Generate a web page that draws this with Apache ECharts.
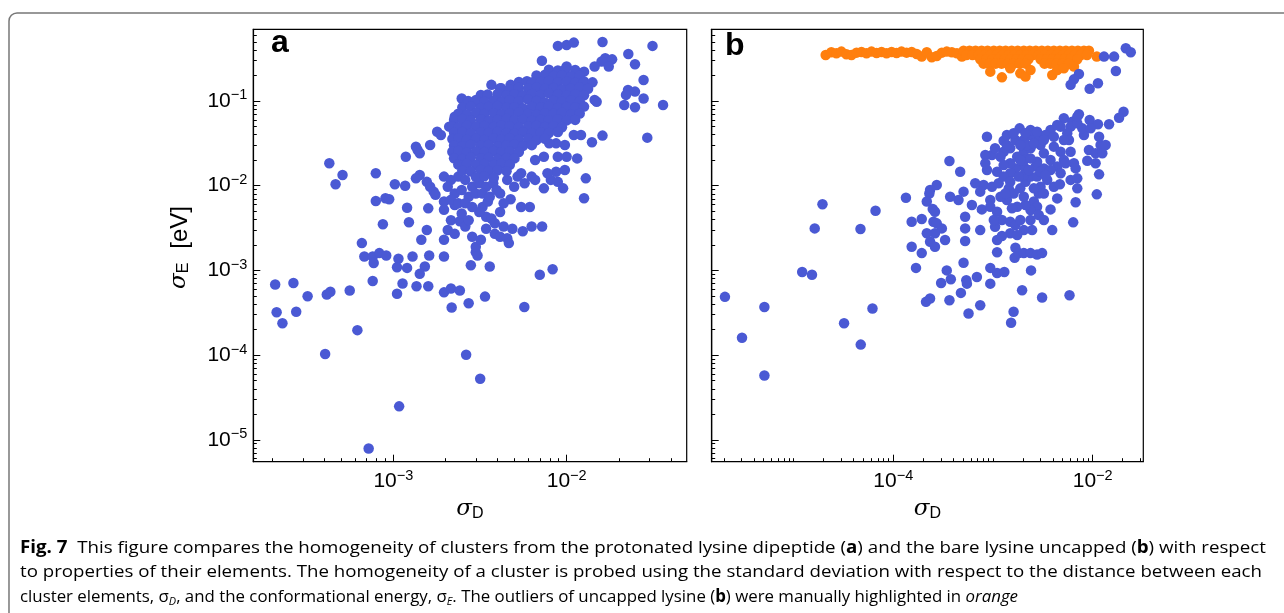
<!DOCTYPE html>
<html><head><meta charset="utf-8">
<script src="https://cdn.jsdelivr.net/npm/echarts@6/dist/echarts.min.js"></script>
<style>html,body{margin:0;padding:0;background:#fff}#c{width:1284px;height:613px}</style>
</head><body><div id="c"></div>
<script>
// ---------- data: [sigma_D, sigma_E] ----------
// panel a: protonated lysine dipeptide
const aOutliers = [
[2.08e-4,6.8e-4],[2.65e-4,7.1e-4],[3.2e-4,4.95e-4],[4.13e-4,5.2e-4],[4.33e-4,5.6e-4],[5.6e-4,5.8e-4],[2.12e-4,3.2e-4],[2.75e-4,3.25e-4],[2.29e-4,2.37e-4],[6.2e-4,1.97e-4],[4.04e-4,1.03e-4],[2.63e-3,1.01e-4],[3.17e-3,5.25e-5],[1.08e-3,2.48e-5],[7.2e-4,7.9e-6],[5.7e-3,3.7e-4],[7.0e-3,8.9e-4],[8.3e-3,1.03e-3],[7.6e-4,7.5e-4],[1.13e-3,7.0e-4],[1.36e-3,6.5e-4],[1.59e-3,6.5e-4],[1.05e-3,5.3e-4],[1.96e-3,5.5e-4],[2.15e-3,6.1e-4],[2.42e-3,5.8e-4],[3.38e-3,4.9e-4],[2.72e-3,4.1e-4],[2.17e-3,3.65e-4],
[6.8e-4,1.46e-3],[7.6e-4,1.46e-3],[7.7e-4,1.22e-3],[8.3e-4,1.6e-3],[9.1e-4,1.5e-3],[1.07e-3,1.37e-3],[1.05e-3,1.09e-3],[1.2e-3,1.07e-3],[1.29e-3,1.46e-3],[1.52e-3,1.11e-3],[1.42e-3,9.1e-4],[1.61e-3,1.5e-3],[1.96e-3,1.46e-3],[2.99e-3,1.64e-3],[3.06e-3,1.5e-3],[2.8e-3,1.15e-3],[3.6e-3,1.11e-3]
];
const aScatter = [
[8.9e-3,0.447],[1.0e-2,0.458],[1.1e-2,0.489],[1.61e-2,0.498],[3.13e-2,0.447],[2.27e-2,0.359],[2.48e-2,0.271],[1.67e-2,0.319],[1.83e-2,0.31],[1.59e-2,0.292],[1.75e-2,0.255],[7.2e-3,0.299],[1.0e-2,0.255],[1.12e-2,0.232],[1.26e-2,0.222],[1.45e-2,0.255],[2.78e-2,0.177],[2.26e-2,0.135],[2.48e-2,0.129],[2.2e-2,0.118],[2.78e-2,0.107],[3.6e-2,0.0897],[2.15e-2,0.0897],[2.48e-2,0.0842],[1.45e-2,0.103],[1.49e-2,0.098],[2.92e-2,0.0369],[1.61e-2,0.039],[1.4e-2,0.0325],[1.1e-2,0.0397],[1.21e-2,0.0397],
[2.48e-3,0.107],[3.68e-3,0.155],[4.13e-3,0.141],[4.75e-3,0.155],[3.2e-3,0.118],[2.99e-3,0.098],[2.37e-3,0.0684],[2.26e-3,0.0653],[2.1e-3,0.0498],[1.79e-3,0.0434],[1.88e-3,0.0397],[1.63e-3,0.0302],[1.35e-3,0.0289],[1.38e-3,0.0264],[1.42e-3,0.0241],[1.18e-3,0.022],
[4.27e-4,0.0184],[4.64e-4,0.0104],[5.09e-4,0.0134],[7.92e-4,0.014],[7.92e-4,0.0066],[9.0e-4,0.0071],[9.46e-4,0.0069],[1.02e-3,0.0104],[1.17e-3,0.01],[1.2e-3,0.0055],[8.7e-4,0.0035],[1.23e-3,0.0037],[6.58e-4,0.0021],[1.45e-3,0.0023],[1.56e-3,0.003],[1.96e-3,0.0023],
[1.42e-3,0.0134],[1.56e-3,0.0111],[1.63e-3,0.0097],[1.71e-3,0.0085],[1.35e-3,0.0122],[1.59e-3,0.0054],[1.75e-3,0.0078],[1.96e-3,0.0065],[1.96e-3,0.0052],[2.26e-3,0.0059],[2.15e-3,0.0039],[2.06e-3,0.003],[2.26e-3,0.0027],[2.42e-3,0.0038],[2.48e-3,0.0047],[2.6e-3,0.0033],[2.72e-3,0.0039],[2.85e-3,0.0025],[2.99e-3,0.0019],[3.2e-3,0.0023],
[3.43e-3,0.0031],[3.43e-3,0.0043],[3.68e-3,0.0041],[3.85e-3,0.0036],[3.85e-3,0.0027],[4.13e-3,0.0025],[4.54e-3,0.0024],[4.64e-3,0.0021],[4.33e-3,0.0033],[4.86e-3,0.0031],[4.13e-3,0.0081],[4.75e-3,0.0069],[5.46e-3,0.0056],[6.13e-3,0.0056],[7.22e-3,0.0033],[6.28e-3,0.0033],[5.58e-3,0.0029],[4.13e-3,0.0049],[4.33e-3,0.0062],[3.27e-3,0.0056],[3.13e-3,0.0049],[3.51e-3,0.0065],
[7.39e-3,0.0093],[8.11e-3,0.0117],[8.89e-3,0.0111],[9.54e-3,0.0093],[8.69e-3,0.0146],[9.77e-3,0.0153],[7.39e-3,0.022],[8.89e-3,0.022],[1.0e-2,0.022],[1.15e-2,0.021],[1.29e-2,0.0122],[1.26e-2,0.0071],[6.58e-3,0.0201],[5.46e-3,0.014],[5.72e-3,0.0107],[6.28e-3,0.0128],[6.58e-3,0.0117],[7.75e-3,0.014],[9.77e-3,0.0302],[8.69e-3,0.0316],[7.93e-3,0.0316],[6.89e-3,0.0415],[7.39e-3,0.0454],
[1.96e-3,0.0128],[2.15e-3,0.0117],[2.37e-3,0.0128],[2.6e-3,0.0117],[2.85e-3,0.0097],[3.13e-3,0.0107],[3.43e-3,0.0097],[3.77e-3,0.0107],[2.06e-3,0.0097],[2.26e-3,0.0081],[2.48e-3,0.0089],[2.72e-3,0.0074],[2.99e-3,0.0081],[3.27e-3,0.0081],[3.6e-3,0.0074],[3.94e-3,0.0089],[2.15e-3,0.0068],[2.37e-3,0.0062],[2.6e-3,0.0062],[2.85e-3,0.0056],[4.54e-3,0.0117],[4.98e-3,0.0097],[5.21e-3,0.0128]
];
// saturated core of panel a (estimated positions inside the solid blob)
const aCore = [
[7.9e-3,0.234],[8.9e-3,0.229],[9.8e-3,0.236],
[6.7e-3,0.200],[7.5e-3,0.204],[8.4e-3,0.197],[9.4e-3,0.201],[1.06e-2,0.196],[1.19e-2,0.199],
[5.3e-3,0.168],[5.9e-3,0.171],[6.3e-3,0.165],[7.1e-3,0.168],[7.9e-3,0.172],[8.9e-3,0.166],[1.0e-2,0.169],[1.12e-2,0.164],[1.26e-2,0.170],[1.41e-2,0.166],
[4.2e-3,0.141],[4.7e-3,0.138],[5.3e-3,0.143],[6.0e-3,0.140],[6.7e-3,0.144],[7.5e-3,0.139],[8.4e-3,0.142],[9.4e-3,0.137],[1.06e-2,0.141],[1.19e-2,0.145],[1.33e-2,0.139],
[3.5e-3,0.119],[4.0e-3,0.122],[4.5e-3,0.117],[5.0e-3,0.120],[5.6e-3,0.116],[6.3e-3,0.121],[7.1e-3,0.118],[7.9e-3,0.123],[8.9e-3,0.119],[1.0e-2,0.116],[1.12e-2,0.120],[1.26e-2,0.117],
[2.7e-3,0.100],[3.0e-3,0.103],[3.35e-3,0.098],[3.8e-3,0.101],[4.2e-3,0.097],[4.7e-3,0.102],[5.3e-3,0.099],[6.0e-3,0.104],[6.7e-3,0.100],[7.5e-3,0.096],[8.4e-3,0.101],[9.4e-3,0.098],[1.06e-2,0.102],[1.19e-2,0.099],
[2.5e-3,0.0841],[2.8e-3,0.0862],[3.2e-3,0.0825],[3.55e-3,0.0848],[4.0e-3,0.0870],[4.5e-3,0.0832],[5.0e-3,0.0845],[5.6e-3,0.0818],[6.3e-3,0.0855],[7.1e-3,0.0838],[7.9e-3,0.0866],[8.9e-3,0.0829],[1.0e-2,0.0850],[1.12e-2,0.0836],[1.26e-2,0.0858],
[2.37e-3,0.0708],[2.66e-3,0.0690],[3.0e-3,0.0722],[3.35e-3,0.0701],[3.8e-3,0.0715],[4.2e-3,0.0695],[4.7e-3,0.0712],[5.3e-3,0.0730],[6.0e-3,0.0703],[6.7e-3,0.0688],[7.5e-3,0.0717],[8.4e-3,0.0705],[9.4e-3,0.0726],[1.06e-2,0.0699],[1.19e-2,0.0711],
[2.24e-3,0.0596],[2.5e-3,0.0611],[2.8e-3,0.0588],[3.2e-3,0.0603],[3.55e-3,0.0582],[4.0e-3,0.0599],[4.5e-3,0.0615],[5.0e-3,0.0592],[5.6e-3,0.0605],[6.3e-3,0.0586],[7.1e-3,0.0601],[7.9e-3,0.0594],[8.9e-3,0.0609],[1.0e-2,0.0590],[1.12e-2,0.0598],
[2.19e-3,0.0501],[2.37e-3,0.0488],[2.66e-3,0.0512],[3.0e-3,0.0496],[3.35e-3,0.0507],[3.8e-3,0.0492],[4.2e-3,0.0515],[4.7e-3,0.0499],[5.3e-3,0.0486],[6.0e-3,0.0504],[6.7e-3,0.0510],[7.5e-3,0.0494],[8.4e-3,0.0503],[9.4e-3,0.0489],
[2.24e-3,0.0422],[2.5e-3,0.0431],[2.8e-3,0.0415],[3.2e-3,0.0426],[3.55e-3,0.0418],[4.0e-3,0.0433],[4.5e-3,0.0420],[5.0e-3,0.0412],[5.6e-3,0.0428],[6.3e-3,0.0417],[7.1e-3,0.0425],[7.9e-3,0.0419],[8.9e-3,0.0430],
[2.19e-3,0.0355],[2.37e-3,0.0362],[2.66e-3,0.0349],[3.0e-3,0.0358],[3.35e-3,0.0346],[3.8e-3,0.0360],[4.2e-3,0.0352],[4.7e-3,0.0364],[5.3e-3,0.0350],[6.0e-3,0.0357],[6.7e-3,0.0345],[7.5e-3,0.0359],
[2.24e-3,0.0299],[2.5e-3,0.0293],[2.8e-3,0.0305],[3.2e-3,0.0296],[3.55e-3,0.0302],[4.0e-3,0.0291],[4.5e-3,0.0300],[5.0e-3,0.0306],[5.6e-3,0.0295],[6.3e-3,0.0301],
[2.19e-3,0.0251],[2.37e-3,0.0257],[2.66e-3,0.0246],[3.0e-3,0.0253],[3.35e-3,0.0249],[3.8e-3,0.0256],[4.2e-3,0.0248],[4.7e-3,0.0254],[5.3e-3,0.0250],
[2.24e-3,0.0211],[2.5e-3,0.0207],[2.8e-3,0.0215],[3.2e-3,0.0209],[3.55e-3,0.0213],[4.0e-3,0.0206],[4.5e-3,0.0212],[5.0e-3,0.0210],
[2.37e-3,0.0178],[2.66e-3,0.0182],[3.0e-3,0.0175],[3.35e-3,0.0180],[3.8e-3,0.0176],[4.2e-3,0.0181],[4.7e-3,0.0177],
[2.5e-3,0.0150],[2.8e-3,0.0147],[3.2e-3,0.0153],[3.55e-3,0.0149],[4.0e-3,0.0152],[4.5e-3,0.0148],
[3.0e-3,0.0126],[3.35e-3,0.0129],[3.8e-3,0.0124]
];
// panel b: bare lysine uncapped
const bBlue = [
[1.3e-2,0.334],[1.64e-2,0.334],[2.15e-2,0.419],[2.41e-2,0.376],[1.71e-2,0.226],[7.28e-3,0.208],[6.49e-3,0.18],[6.01e-3,0.155],[1.13e-2,0.162],[9.33e-3,0.139],
[2.04e-2,0.0748],[1.84e-2,0.0635],[7.28e-3,0.0696],[5.14e-3,0.0624],[6.24e-3,0.057],[9.33e-3,0.0597],[1.13e-2,0.053],[1.46e-2,0.053],[8.18e-3,0.0397],[7.87e-3,0.0475],[6.01e-3,0.0498],[4.77e-3,0.0498],[3.78e-3,0.0454],[3.36e-3,0.0397],[2.88e-3,0.0362],[1.85e-3,0.0475],[2.38e-3,0.0397],[2.04e-3,0.0346],[1.68e-3,0.0346],[1.28e-3,0.034],[8.71e-4,0.0379],
[1.49e-3,0.0276],[1.28e-3,0.0252],[1.19e-3,0.022],[9.77e-4,0.023],[8.38e-4,0.023],[2.04e-3,0.0252],[2.38e-3,0.0276],[3.0e-3,0.0302],[4.08e-3,0.0289],[4.77e-3,0.0252],[6.01e-3,0.0252],[1.16e-2,0.0379],[1.2e-2,0.0302],[1.35e-2,0.0302],[9.18e-3,0.0264],[1.07e-2,0.0241],[1.25e-2,0.0241],[8.83e-3,0.0197],[1.07e-2,0.0184],[6.49e-3,0.0184],[6.75e-3,0.016],[1.16e-2,0.0136],
[6.01e-3,0.0117],[7.01e-3,0.0122],[7.01e-3,0.0093],[1.1e-2,0.0079],[6.75e-3,0.00636],[6.38e-3,0.00369],[3.93e-3,0.00299],[3.78e-3,0.00525],[4.41e-3,0.00708],[4.08e-3,0.00973],[4.69e-3,0.0104],[3.5e-3,0.0117],[3.24e-3,0.016],[2.67e-3,0.0168],[2.77e-3,0.0192],[2.04e-3,0.0168],[1.68e-3,0.016],[1.49e-3,0.0184],[1.28e-3,0.0175],[1.1e-3,0.0146],[8.71e-4,0.0153],[8.38e-4,0.0184],
[8.05e-4,0.0102],[9.77e-4,0.0097],[1.14e-3,0.0107],[1.44e-3,0.0093],[1.88e-3,0.0093],[2.12e-3,0.0111],[2.38e-3,0.0128],[3.0e-3,0.0097],[2.88e-3,0.0081],[2.57e-3,0.0065],[2.77e-3,0.00565],[2.38e-3,0.00516],[2.12e-3,0.00591],[1.75e-3,0.00565],[2.04e-3,0.00741],[1.61e-3,0.0081],[1.38e-3,0.00678],[1.19e-3,0.00741],[9.4e-4,0.00678],[7.74e-4,0.00525],[9.4e-4,0.00565],
[1.1e-3,0.00493],[1.23e-3,0.00393],[1.49e-3,0.00375],[1.68e-3,0.00343],[1.88e-3,0.00393],[2.38e-3,0.00393],[2.88e-3,0.00451],[2.47e-3,0.00299],[2.04e-3,0.00299],[1.49e-3,0.00274],[1.75e-3,0.00261],[1.05e-3,0.00328],[1.02e-3,0.00393],[7.45e-4,0.00299],[7.45e-4,0.0085],[6.64e-4,0.0107],[5.07e-4,0.0085],[4.51e-4,0.00678],[6.15e-4,0.00591],[5.26e-4,0.0043],[5.26e-4,0.00313],[5.26e-4,0.00222],
[1.1e-3,0.00228],[1.23e-3,0.00255],[1.68e-3,0.00185],[3.66e-4,0.0196],[4.69e-4,0.0146],[2.73e-4,0.0102],[2.34e-4,0.0089],[2.3e-4,0.0081],[3.72e-4,0.00741],[2.17e-4,0.0065],[2.49e-4,0.0053],[2.62e-4,0.00493],[1.93e-4,0.00404],[1.53e-4,0.00375],[2.53e-4,0.00375],[2.73e-4,0.00359],[3.07e-4,0.00313],[2.62e-4,0.00274],[2.17e-4,0.00274],[3.31e-4,0.00228],[2.34e-4,0.00218],[2.62e-4,0.0019],[1.53e-4,0.0019],
[1.34e-4,0.0072],[6.64e-5,0.00507],[4.69e-5,0.00308],[1.95e-5,0.00603],[1.63e-5,0.00313],
[2.04e-3,0.0201],[2.38e-3,0.021],[1.75e-3,0.022],[3.24e-3,0.0241],[3.78e-3,0.0201],[4.41e-3,0.0168],[5.14e-3,0.0201],[5.56e-3,0.0415],[7.01e-3,0.0545],[4.08e-3,0.0379],[1.49e-3,0.014],[2.77e-3,0.0128],[3.24e-3,0.0081],[3.78e-3,0.0153],[2.04e-3,0.0134],[2.2e-3,0.0302],[2.38e-3,0.0454],[7.01e-3,0.0653],[5.78e-3,0.0346],
[1.38e-3,0.0397],[1.61e-3,0.0415],[2.12e-3,0.0415],[2.77e-3,0.0434],[3.24e-3,0.0346],[2.57e-3,0.0316],[1.88e-3,0.0302],[1.38e-3,0.0302],[1.05e-3,0.0276],[1.88e-3,0.0201],[2.29e-3,0.0153],[3.0e-3,0.0146],[1.28e-3,0.0128],[1.49e-3,0.0111],[1.81e-3,0.0128],[3.36e-3,0.0134],[4.77e-3,0.014],[5.14e-3,0.0346],[4.41e-3,0.0521],[9.55e-3,0.0475],[5.35e-3,0.0184],[2.57e-3,0.0093],[1.55e-3,0.0054],[1.33e-3,0.0081],[3.24e-3,0.00393],
[1.93e-4,1.6e-3],[1.69e-4,1.07e-3],[3.44e-4,1.0e-3],[5.07e-4,1.23e-3],[3.02e-4,7.1e-4],[3.78e-4,7.84e-4],[5.4e-4,7.63e-4],[5.48e-4,6.97e-4],[6.9e-4,8.35e-4],[9.4e-4,1.07e-3],[9.4e-4,6.97e-4],[1.1e-3,1.64e-3],[1.1e-3,9.3e-4],[1.3e-3,9.55e-4],[1.65e-3,1.41e-3],[1.81e-3,1.6e-3],[2.04e-3,1.6e-3],[2.38e-3,1.6e-3],[2.77e-3,1.54e-3],[3.11e-3,1.6e-3],[2.41e-3,1.0e-3],
[1.96e-3,5.82e-4],[3.11e-3,4.78e-4],[5.86e-3,5.09e-4],[1.61e-3,3.24e-4],[1.52e-3,2.41e-4],[7.45e-4,3.88e-4],[5.69e-4,3.1e-4],[4.77e-4,5.42e-4],[3.66e-4,4.45e-4],[2.34e-4,4.65e-4],[2.13e-4,4.25e-4],[6.19e-5,3.55e-4],[3.21e-5,2.37e-4],[4.72e-5,1.33e-4],[1.53e-5,8.89e-4],[1.22e-5,9.55e-4],[2.05e-6,4.87e-4],[5.1e-6,3.7e-4],[3.04e-6,1.6e-4],[5.1e-6,5.74e-5]
];
// panel b outliers (orange)
const bOrange = [
[2.1e-5,0.349],[2.39e-5,0.376],[2.69e-5,0.366],[3.02e-5,0.383],[3.39e-5,0.356],[3.81e-5,0.349],[4.28e-5,0.372],[4.8e-5,0.379],[5.39e-5,0.366],[6.05e-5,0.383],[6.8e-5,0.369],[7.63e-5,0.379],[8.57e-5,0.366],[9.62e-5,0.379],[1.08e-4,0.369],[1.21e-4,0.383],[1.36e-4,0.372],[1.53e-4,0.379],[1.72e-4,0.359],[1.93e-4,0.334],[2.17e-4,0.376],[2.43e-4,0.328],[2.73e-4,0.34],[3.07e-4,0.372],[3.44e-4,0.383],[3.87e-4,0.376],[4.35e-4,0.366],[4.88e-4,0.334],
[5.07e-4,0.393],[5.82e-4,0.393],[6.69e-4,0.393],[7.69e-4,0.393],[8.83e-4,0.393],[1.02e-3,0.393],[1.17e-3,0.393],[1.34e-3,0.393],[1.54e-3,0.393],[1.77e-3,0.393],[2.04e-3,0.393],[2.34e-3,0.393],[2.69e-3,0.393],[3.09e-3,0.393],[3.55e-3,0.393],[4.08e-3,0.393],[4.69e-3,0.393],[5.39e-3,0.393],[6.2e-3,0.393],[7.11e-3,0.393],[8.18e-3,0.393],[9.18e-3,0.393],
[5.43e-4,0.349],[6.24e-4,0.349],[7.18e-4,0.349],[8.24e-4,0.349],[9.47e-4,0.349],[1.09e-3,0.349],[1.25e-3,0.349],[1.44e-3,0.349],[1.65e-3,0.349],[1.9e-3,0.349],[2.18e-3,0.349],[2.51e-3,0.349],[2.88e-3,0.349],[3.31e-3,0.349],[3.81e-3,0.349],[4.38e-3,0.349],[5.03e-3,0.349],[5.78e-3,0.349],[6.64e-3,0.349],[7.63e-3,0.349],[8.77e-3,0.349],
[7.45e-4,0.31],[8.57e-4,0.31],[9.85e-4,0.31],[1.13e-3,0.31],[1.3e-3,0.31],[1.49e-3,0.31],[1.72e-3,0.31],[1.97e-3,0.31],[2.27e-3,0.31],[3.0e-3,0.31],[3.44e-3,0.31],[3.96e-3,0.31],[4.55e-3,0.31],[5.22e-3,0.31],[6.01e-3,0.31],[7.01e-3,0.31],
[8.05e-4,0.276],[9.25e-4,0.276],[1.06e-3,0.276],[1.22e-3,0.276],[1.41e-3,0.276],[1.61e-3,0.276],[1.85e-3,0.276],[2.13e-3,0.276],[3.29e-3,0.276],[3.78e-3,0.276],[4.34e-3,0.276],[4.99e-3,0.276],[5.74e-3,0.276],
[9.4e-4,0.222],[1.23e-3,0.19],[1.88e-3,0.212],[2.12e-3,0.194],[2.38e-3,0.232],[3.93e-3,0.203],[4.41e-3,0.232],[5.14e-3,0.243],[6.49e-3,0.255],[1.49e-3,0.243],[1.1e-2,0.334]
];
// axis limits and ticks
const xLimA = [1.555e-4, 0.0493];
const xLimB = [1.51e-6, 0.0322];
const yLim = [5.51e-6, 0.702];
const xMajorA = [1e-3, 1e-2];
const xMinorA = [2e-4,3e-4,4e-4,5e-4,6e-4,7e-4,8e-4,9e-4,2e-3,3e-3,4e-3,5e-3,6e-3,7e-3,8e-3,9e-3,2e-2,3e-2,4e-2];
const xMajorB = [1e-4, 1e-2];
const xMinorB = [2e-6,3e-6,4e-6,5e-6,6e-6,7e-6,8e-6,9e-6,1e-5,2e-5,3e-5,4e-5,5e-5,6e-5,7e-5,8e-5,9e-5,2e-4,3e-4,4e-4,5e-4,6e-4,7e-4,8e-4,9e-4,1e-3,2e-3,3e-3,4e-3,5e-3,6e-3,7e-3,8e-3,9e-3,2e-2,3e-2];
const yMajor = [1e-5,1e-4,1e-3,1e-2,1e-1];
const yMinor = [6e-6,7e-6,8e-6,9e-6,2e-5,3e-5,4e-5,5e-5,6e-5,7e-5,8e-5,9e-5,2e-4,3e-4,4e-4,5e-4,6e-4,7e-4,8e-4,9e-4,2e-3,3e-3,4e-3,5e-3,6e-3,7e-3,8e-3,9e-3,2e-2,3e-2,4e-2,5e-2,6e-2,7e-2,8e-2,9e-2,2e-1,3e-1,4e-1,5e-1,6e-1];
const panelLetters = ['a','b'];
const captionLines = [
  [['b','Fig. 7'],['n','  This figure compares the homogeneity of clusters from the protonated lysine dipeptide ('],['b','a'],['n',') and the bare lysine uncapped ('],['b','b'],['n',') with respect']],
  [['n','to properties of their elements. The homogeneity of a cluster is probed using the standard deviation with respect to the distance between each']],
  [['n','cluster elements, \u03c3'],['sub','D'],['n',', and the conformational energy, \u03c3'],['sub','E'],['n','. The outliers of uncapped lysine ('],['b','b'],['n',') were manually highlighted in '],['i','orange']]
];

// ---------- rendering ----------
const BLUE = '#4a59d4', ORANGE = '#ff7f0e';
const FONT = '"Liberation Sans", Arial, Helvetica, sans-serif';
const SIG = '"DejaVu Serif", serif';
const chart = echarts.init(document.getElementById('c'), null, {renderer: 'canvas'});

function powLabel(v) {
  const e = Math.round(Math.log10(v));
  return '{b|10}{s|' + (e < 0 ? '\u2212' + (-e) : '' + e) + '}';
}
const labelRich = {
  b: {fontFamily: FONT, fontSize: 21, lineHeight: 26, color: '#000'},
  s: {fontFamily: FONT, fontSize: 14.5, lineHeight: 13.4, verticalAlign: 'top', color: '#000'}
};
function axis(dim, gi, lim, ticks, len, labels, showLine) {
  return {
    type: 'log', logBase: 10, gridIndex: gi, min: lim[0], max: lim[1],
    position: dim === 'x' ? 'bottom' : 'left', offset: 0,
    axisLine: {show: showLine, onZero: false, lineStyle: {color: '#000', width: 1.2}},
    axisTick: {show: true, inside: true, length: len, customValues: ticks, lineStyle: {color: '#000', width: 1}},
    axisLabel: labels ? {show: true, customValues: labels, margin: dim === 'x' ? 7 : 6, formatter: powLabel, rich: labelRich, hideOverlap: false}
                      : {show: false},
    splitLine: {show: false}, minorTick: {show: false}, minorSplitLine: {show: false},
    silent: true, name: ''
  };
}
const gridA = {left: 253.3, top: 29.3, width: 433.4, height: 432.4};
const gridB = {left: 711.7, top: 29.3, width: 431.6, height: 432.4};
const grids = [gridA, gridB].map(g => Object.assign({show: true, borderColor: '#000', borderWidth: 1.2, backgroundColor: 'rgba(0,0,0,0)', containLabel: false, outerBoundsMode: 'none'}, g));

const scatterBase = {type: 'scatter', symbol: 'circle', symbolSize: 10.5, silent: true, animation: false, clip: true, emphasis: {disabled: true}};

// caption measurement -> horizontal scale to match the original condensed face
const capFamily = '"Open Sans", "Noto Sans", sans-serif';
const capSize = 17;
const capStyles = {
  n: {fontFamily: capFamily, fontSize: capSize, color: '#1a1a1a'},
  b: {fontFamily: capFamily, fontSize: capSize, fontWeight: 'bold', color: '#1a1a1a'},
  i: {fontFamily: capFamily, fontSize: capSize, fontStyle: 'italic', color: '#1a1a1a'},
  sub: {fontFamily: capFamily, fontSize: 11, fontStyle: 'italic', color: '#1a1a1a', lineHeight: 12, verticalAlign: 'bottom'}
};
Object.keys(capStyles).forEach(k => { if (k !== 'sub') capStyles[k].lineHeight = 20; });
const mctx = document.createElement('canvas').getContext('2d');
function segWidth(k, t) {
  const s = capStyles[k];
  mctx.font = (s.fontStyle ? s.fontStyle + ' ' : '') + (s.fontWeight ? s.fontWeight + ' ' : '') + s.fontSize + 'px ' + s.fontFamily;
  return mctx.measureText(t).width;
}
const capTargets = [[20, 548, 1266], [20, 572.5, 1262], [20, 597, 1018]];
const captionGraphics = captionLines.map((segs, i) => {
  const natural = segs.reduce((a, s) => a + segWidth(s[0], s[1]), 0);
  const [x0, yc, x1] = capTargets[i];
  return {
    type: 'text', x: x0, y: yc, scaleX: (x1 - x0) / natural, silent: true,
    style: {text: segs.map(s => '{' + s[0] + '|' + s[1] + '}').join(''), rich: capStyles, align: 'left', verticalAlign: 'middle'}
  };
});

function sigmaTitle(sub, x, y, rot) {
  return {
    type: 'text', x: x, y: y, rotation: rot || 0, silent: true,
    style: {
      text: rot ? '{s|\u03c3}{e|' + sub + '}{g| }{t|[eV]}' : '{s|\u03c3}{e|' + sub + '}',
      align: 'center', verticalAlign: rot ? 'middle' : 'top',
      rich: {
        s: {fontFamily: SIG, fontStyle: 'italic', fontSize: 23, lineHeight: 24, verticalAlign: 'top', color: '#000'},
        e: {fontFamily: FONT, fontSize: 16, lineHeight: 10.4, verticalAlign: 'bottom', color: '#000'},
        g: {width: 14, fontSize: 10, lineHeight: 10},
        t: {fontFamily: FONT, fontSize: 24, lineHeight: 24, verticalAlign: 'top', color: '#000'}
      }
    }
  };
}

chart.setOption({
  animation: false,
  backgroundColor: '#fff',
  grid: grids,
  xAxis: [
    axis('x', 0, xLimA, xMajorA, 7, xMajorA, true),
    axis('x', 0, xLimA, xMinorA, 3.5, null, false),
    axis('x', 1, xLimB, xMajorB, 7, xMajorB, true),
    axis('x', 1, xLimB, xMinorB, 3.5, null, false)
  ],
  yAxis: [
    axis('y', 0, yLim, yMajor, 7, yMajor, true),
    axis('y', 0, yLim, yMinor, 3.5, null, false),
    axis('y', 1, yLim, yMajor, 7, null, true),
    axis('y', 1, yLim, yMinor, 3.5, null, false)
  ],
  series: [
    Object.assign({}, scatterBase, {xAxisIndex: 0, yAxisIndex: 0, data: aOutliers.concat(aScatter, aCore), itemStyle: {color: BLUE, opacity: 1}}),
    Object.assign({}, scatterBase, {xAxisIndex: 2, yAxisIndex: 2, data: bOrange, itemStyle: {color: ORANGE, opacity: 1}}),
    Object.assign({}, scatterBase, {xAxisIndex: 2, yAxisIndex: 2, data: bBlue, itemStyle: {color: BLUE, opacity: 1}})
  ],
  graphic: [
    {type: 'rect', z: -10, silent: true, shape: {x: 9, y: 13, width: 1320, height: 660, r: 8}, style: {fill: 'none', stroke: '#777', lineWidth: 1.5}},
    {type: 'text', x: 271, y: 59, silent: true, style: {text: panelLetters[0], font: 'bold 32px ' + FONT, fill: '#000', verticalAlign: 'bottom', textBaseline: 'alphabetic'}},
    {type: 'text', x: 725, y: 62.5, silent: true, style: {text: panelLetters[1], font: 'bold 32px ' + FONT, fill: '#000', verticalAlign: 'bottom', textBaseline: 'alphabetic'}},
    sigmaTitle('D', gridA.left + gridA.width / 2, 497.4),
    sigmaTitle('D', gridB.left + gridB.width / 2, 497.4),
    sigmaTitle('E', 180, 247.5, Math.PI / 2)
  ].concat(captionGraphics)
});
</script></body></html>
